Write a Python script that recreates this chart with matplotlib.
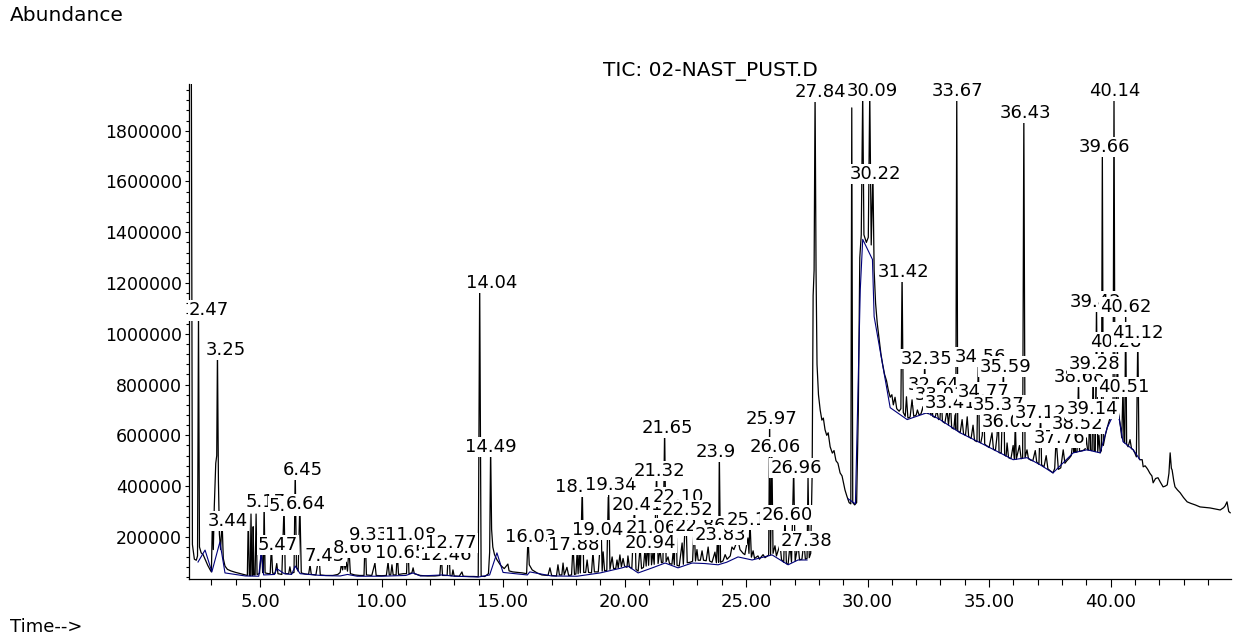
import numpy as np
import matplotlib
matplotlib.use("Agg")
import matplotlib.pyplot as plt
from matplotlib.ticker import MultipleLocator, FormatStrFormatter

# TIC trace: (retention time [min], abundance [x1000])
tic_early = [
    (2.17, 2300), (2.22, 170), (2.30, 112), (2.38, 108), (2.43, 125), (2.47, 1092), (2.51, 160),
    (2.58, 137), (2.66, 130), (2.75, 110), (2.85, 88), (2.95, 70), (3.00, 62), (3.05, 300),
    (3.08, 150), (3.12, 320), (3.18, 490), (3.22, 520), (3.25, 938), (3.29, 420), (3.33, 210),
    (3.38, 150), (3.44, 263), (3.49, 115), (3.56, 85), (3.66, 72), (3.80, 66), (4.00, 60),
    (4.20, 55), (4.40, 50), (4.48, 48), (4.52, 290), (4.56, 48), (4.60, 47), (4.63, 290),
    (4.67, 48), (4.70, 48), (4.72, 240), (4.75, 50), (4.80, 50), (4.84, 290), (4.88, 52),
    (4.98, 55), (5.07, 160), (5.11, 60), (5.14, 58), (5.17, 338), (5.21, 58), (5.35, 55),
    (5.42, 56), (5.47, 168), (5.52, 57), (5.62, 56), (5.69, 95), (5.74, 55), (5.90, 52),
    (5.99, 322), (6.04, 55), (6.18, 55), (6.23, 82), (6.28, 56), (6.40, 60), (6.45, 464),
    (6.50, 80), (6.57, 65), (6.64, 330), (6.70, 58), (6.85, 54), (7.00, 52), (7.06, 90),
    (7.11, 52), (7.30, 50), (7.43, 125), (7.48, 50), (7.70, 48), (8.00, 48), (8.20, 52),
    (8.30, 60), (8.35, 95), (8.40, 70), (8.45, 110), (8.50, 72), (8.55, 100), (8.60, 65),
    (8.66, 157), (8.72, 55), (8.90, 50), (9.10, 48), (9.28, 48), (9.33, 208), (9.38, 50),
    (9.60, 48), (9.73, 97), (9.78, 48), (10.00, 47), (10.20, 48), (10.27, 101), (10.32, 50),
    (10.38, 50), (10.43, 90), (10.48, 50), (10.60, 50), (10.65, 137), (10.70, 52), (10.90, 55),
    (11.03, 55), (11.08, 208), (11.13, 55), (11.25, 58), (11.30, 78), (11.35, 55), (11.60, 48),
    (11.90, 46), (12.20, 46), (12.40, 48), (12.46, 129), (12.51, 48), (12.70, 48), (12.77, 176),
    (12.82, 48), (12.90, 47), (12.94, 70), (12.99, 46), (13.20, 45), (13.31, 62), (13.36, 45),
    (13.60, 44), (13.80, 44), (13.98, 43), (14.04, 1202), (14.10, 45), (14.25, 44), (14.40, 55),
    (14.45, 140), (14.49, 555), (14.53, 230), (14.58, 160), (14.65, 130), (14.75, 110), (14.90, 88),
]

tic_mid = [
    (15.05, 75), (15.20, 93), (15.25, 66), (15.40, 62), (15.60, 60), (15.80, 58), (15.97, 55),
    (16.03, 200), (16.08, 90), (16.20, 70), (16.40, 58), (16.60, 50), (16.85, 48), (16.93, 78),
    (17.00, 48), (17.20, 46), (17.26, 90), (17.32, 50), (17.42, 50), (17.47, 97), (17.52, 50),
    (17.63, 80), (17.70, 48), (17.82, 50), (17.88, 168), (17.94, 52), (18.00, 54), (18.05, 141),
    (18.09, 55), (18.13, 141), (18.18, 58), (18.26, 397), (18.32, 60), (18.40, 60), (18.46, 109),
    (18.52, 60), (18.64, 58), (18.70, 141), (18.76, 62), (18.92, 62), (19.04, 228), (19.08, 65),
    (19.12, 141), (19.18, 66), (19.27, 68), (19.34, 405), (19.40, 72), (19.49, 121), (19.55, 75),
    (19.64, 76), (19.69, 109), (19.74, 78), (19.81, 129), (19.87, 82), (19.94, 115), (20.00, 85),
    (20.10, 80), (20.14, 125), (20.20, 82), (20.30, 75), (20.41, 326), (20.47, 72), (20.56, 65),
    (20.64, 160), (20.70, 75), (20.78, 80), (20.84, 150), (20.89, 85), (20.94, 176), (20.99, 88),
    (21.06, 236), (21.11, 90), (21.17, 140), (21.22, 92), (21.32, 460), (21.38, 95), (21.46, 150),
    (21.52, 98), (21.58, 100), (21.65, 630), (21.71, 102), (21.79, 121), (21.85, 95), (21.95, 92),
    (22.00, 140), (22.05, 90), (22.10, 358), (22.16, 88), (22.25, 85), (22.37, 176), (22.42, 92),
    (22.52, 307), (22.58, 98), (22.70, 100), (22.80, 104), (22.86, 243), (22.92, 105), (22.98, 150),
    (23.03, 108), (23.12, 108), (23.19, 145), (23.25, 108), (23.36, 106), (23.44, 160), (23.50, 105),
    (23.60, 100), (23.72, 140), (23.78, 98), (23.83, 208), (23.87, 100), (23.90, 535), (23.95, 100),
    (24.05, 105), (24.14, 130), (24.22, 112), (24.35, 125), (24.42, 160), (24.50, 150), (24.60, 175),
    (24.67, 188), (24.75, 150), (24.88, 135), (24.95, 130), (25.08, 196), (25.12, 135), (25.16, 267),
    (25.22, 120), (25.29, 145), (25.35, 115), (25.49, 125), (25.55, 112), (25.70, 130), (25.78, 118),
    (25.88, 125), (25.93, 128), (25.97, 665), (26.01, 130), (26.06, 555), (26.11, 135), (26.19, 165),
    (26.25, 125), (26.40, 170), (26.46, 110), (26.55, 100), (26.60, 287), (26.66, 95), (26.73, 92),
    (26.81, 170), (26.87, 100), (26.96, 472), (27.02, 105), (27.14, 170), (27.20, 110), (27.30, 112),
    (27.38, 184), (27.44, 112), (27.51, 115), (27.55, 440), (27.60, 118), (27.66, 135),
]

tic_late = [
    (27.72, 450), (27.76, 1150), (27.80, 1250), (27.84, 1952), (27.88, 1250), (27.92, 880),
    (27.98, 760), (28.05, 700), (28.12, 660), (28.18, 668), (28.25, 622), (28.32, 600), (28.38, 610),
    (28.46, 555), (28.55, 530), (28.62, 540), (28.70, 500), (28.78, 490), (28.87, 452), (28.95, 440),
    (29.07, 385), (29.15, 360), (29.24, 335), (29.31, 330), (29.35, 1890), (29.39, 335), (29.47, 326),
    (29.55, 335), (29.62, 700), (29.68, 1300), (29.74, 1390), (29.80, 1950), (29.85, 1390),
    (29.95, 1360), (30.03, 1380), (30.09, 1956), (30.15, 1350), (30.22, 1628), (30.27, 1250),
    (30.33, 1120), (30.40, 1040), (30.47, 985), (30.55, 920), (30.62, 880), (30.70, 840), (30.78, 815),
    (30.85, 780), (30.93, 750), (31.00, 760), (31.06, 720), (31.13, 750), (31.20, 705), (31.30, 695),
    (31.37, 705), (31.42, 1245), (31.47, 690), (31.55, 675), (31.60, 752), (31.66, 668), (31.75, 672),
    (31.83, 740), (31.90, 675), (32.00, 680), (32.05, 700), (32.12, 680), (32.20, 685), (32.28, 713),
    (32.31, 688), (32.35, 902), (32.40, 690), (32.50, 685), (32.57, 730), (32.60, 680), (32.64, 800),
    (32.68, 675), (32.78, 670), (32.85, 700), (32.92, 662), (32.98, 665), (33.03, 760), (33.08, 655),
    (33.18, 648), (33.27, 700), (33.33, 640), (33.41, 729), (33.46, 630), (33.55, 625), (33.60, 680),
    (33.63, 622), (33.67, 1956), (33.71, 618), (33.81, 610), (33.89, 662), (33.95, 605), (34.03, 600),
    (34.10, 673), (34.16, 595), (34.26, 588), (34.34, 640), (34.40, 580), (34.50, 575), (34.56, 910),
    (34.60, 573), (34.66, 571), (34.72, 600), (34.77, 772), (34.82, 565), (34.92, 558), (35.00, 552),
    (35.12, 610), (35.18, 545), (35.26, 540), (35.33, 600), (35.37, 721), (35.41, 532), (35.50, 530),
    (35.59, 871), (35.64, 522), (35.70, 518), (35.74, 570), (35.80, 512), (35.90, 508), (35.99, 560),
    (36.04, 505), (36.08, 654), (36.12, 506), (36.25, 560), (36.32, 508), (36.38, 510), (36.43, 1869),
    (36.48, 512), (36.56, 543), (36.62, 508), (36.72, 502), (36.80, 500), (36.90, 540), (36.96, 495),
    (37.05, 486), (37.12, 689), (37.16, 484), (37.26, 476), (37.35, 520), (37.42, 468), (37.52, 460),
    (37.63, 452), (37.70, 470), (37.76, 591), (37.80, 531), (37.85, 466), (37.95, 472), (38.05, 543),
    (38.12, 490), (38.20, 500), (38.30, 510), (38.38, 520), (38.46, 583), (38.49, 532), (38.52, 646),
    (38.56, 533), (38.62, 535), (38.68, 831), (38.72, 537), (38.85, 540), (38.95, 545), (39.00, 590),
    (39.05, 543), (39.10, 542), (39.14, 705), (39.18, 541), (39.24, 540), (39.28, 882), (39.32, 538),
    (39.37, 536), (39.42, 1127), (39.47, 534), (39.52, 600), (39.57, 531), (39.62, 540), (39.66, 1735),
    (39.70, 560), (39.78, 600), (39.86, 630), (39.95, 660), (40.05, 680), (40.10, 700), (40.14, 1956),
    (40.18, 705), (40.24, 710), (40.28, 969), (40.32, 690), (40.40, 640), (40.46, 590), (40.51, 792),
    (40.55, 575), (40.58, 570), (40.62, 1107), (40.66, 565), (40.72, 555), (40.80, 583), (40.86, 548),
    (40.93, 543), (41.00, 530), (41.06, 515), (41.12, 1005), (41.17, 508), (41.21, 504), (41.30, 504),
    (41.34, 476), (41.42, 480), (41.50, 470), (41.54, 464), (41.62, 450), (41.70, 440), (41.75, 413),
    (41.85, 430), (41.95, 433), (42.05, 415), (42.16, 397), (42.25, 400), (42.33, 405), (42.40, 450),
    (42.45, 531), (42.50, 470), (42.53, 464), (42.60, 420), (42.65, 397), (42.75, 385), (42.86, 374),
    (43.00, 355), (43.15, 338), (43.30, 332), (43.48, 326), (43.68, 318), (43.90, 316), (44.09, 314),
    (44.30, 310), (44.51, 306), (44.65, 315), (44.71, 322), (44.79, 338), (44.86, 300), (44.92, 295),
]

# integration baseline (blue)
base_early = [
    (2.45, 101), (2.74, 148), (3.02, 62), (3.35, 180), (3.56, 58), (4.40, 46), (4.95, 45),
    (5.05, 140), (5.15, 50), (5.60, 52), (5.69, 75), (6.00, 55), (6.30, 52), (6.45, 85), (6.65, 55),
    (7.50, 48), (8.30, 46), (8.60, 52), (9.00, 45), (10.00, 45), (11.00, 48), (11.30, 58),
    (11.60, 46), (12.50, 50), (13.00, 45), (14.00, 42), (14.45, 50), (14.75, 137), (15.00, 60),
    (16.00, 50), (16.10, 62), (17.00, 46), (18.05, 45), (19.00, 58), (19.90, 78), (20.14, 85),
    (20.56, 58), (21.20, 80), (21.67, 97), (22.20, 78), (22.78, 97), (23.30, 95), (23.85, 90),
    (24.20, 100), (24.67, 121), (25.25, 109), (26.07, 129), (26.73, 90), (27.14, 109), (27.51, 109),
]
base_late = [
    (29.20, 350), (29.50, 330), (29.70, 1174), (29.80, 1372), (30.20, 1293), (30.27, 1068),
    (30.93, 709), (31.63, 662), (32.45, 689), (32.98, 662), (33.81, 610), (34.63, 571), (35.45, 531),
    (35.99, 504), (36.56, 512), (37.10, 484), (37.63, 452), (38.46, 531), (39.03, 543), (39.57, 531),
    (39.86, 630), (40.27, 713), (40.51, 575), (40.93, 543), (41.21, 504),
]

# peak labels, in drawing order (later ones cover earlier ones)
peak_labels = [
    "2.47", "3.25", "3.44", "5.17", "5.99", "6.64", "6.45", "5.47", "7.43", "8.66", "9.33",
    "11.08", "10.65", "12.46", "12.77", "14.04", "14.49", "16.03", "17.88", "19.04", "18.26",
    "19.34", "20.41", "21.06", "20.94", "22.86", "23.83", "25.16", "22.10", "22.52", "21.32",
    "21.65", "23.9", "26.60", "27.38", "25.97", "26.96", "26.06",
    "31.42", "32.35", "34.56", "32.64", "33.03", "33.41", "34.77", "35.59", "35.37", "36.08",
    "37.12", "37.76", "38.52", "39.14", "38.68", "39.28", "40.51", "39.42", "40.28", "41.12",
    "40.62", "39.66", "36.43", "33.67", "30.22", "27.84", "30.09", "40.14",
]
label_t = [
    2.90, 3.60, 3.68, 5.25, 6.19, 6.89, 6.77, 5.74, 7.67, 8.83, 9.49,
    11.21, 10.80, 12.65, 12.86, 14.55, 14.51, 16.15, 17.92, 18.91, 18.21,
    19.44, 20.51, 21.09, 21.05, 23.11, 23.93, 25.25, 22.20, 22.61, 21.42,
    21.75, 23.77, 26.69, 27.47, 26.03, 27.06, 26.19,
    31.46, 32.41, 34.63, 32.70, 32.98, 33.40, 34.79, 35.66, 35.41, 35.74,
    37.10, 37.88, 38.62, 39.24, 38.70, 39.32, 40.56, 39.40, 40.23, 41.13,
    40.64, 39.73, 36.48, 33.68, 30.31, 28.05, 30.19, 40.19,
]
label_v = [
    1092, 938, 263, 338, 322, 330, 464, 168, 125, 157, 208,
    208, 137, 129, 176, 1202, 555, 200, 168, 228, 397,
    405, 326, 236, 176, 243, 208, 267, 358, 307, 460,
    630, 535, 287, 184, 665, 472, 555,
    1245, 902, 910, 800, 760, 729, 772, 871, 721, 654,
    689, 591, 646, 705, 831, 882, 792, 1127, 969, 1005,
    1107, 1735, 1869, 1956, 1628, 1952, 1956, 1956,
]

tic = np.array(tic_early + tic_mid + tic_late)

fig = plt.figure(figsize=(12.33, 6.36), dpi=100)
ax = fig.add_axes([0.1533, 0.0896, 0.845, 0.7787])

ax.plot(tic[:, 0], tic[:, 1] * 1000, color="black", lw=0.9, zorder=2)
for seg in (base_early, base_late):
    b = np.array(seg)
    ax.plot(b[:, 0], b[:, 1] * 1000, color="#00007a", lw=0.8, zorder=3)

for txt, lt, lv in zip(peak_labels, label_t, label_v):
    ax.text(lt, lv * 1000, txt, ha="center", va="center", fontsize=13, zorder=5,
            bbox=dict(boxstyle="square,pad=0.06", fc="white", ec="none"), clip_on=False)

ax.set_xlim(2.08, 44.95)
ax.set_ylim(34000, 1985000)

ax.xaxis.set_major_locator(MultipleLocator(5))
ax.xaxis.set_minor_locator(MultipleLocator(1))
ax.xaxis.set_major_formatter(FormatStrFormatter("%.2f"))
ax.yaxis.set_major_locator(MultipleLocator(200000))
ax.yaxis.set_minor_locator(MultipleLocator(40000))
ax.yaxis.set_major_formatter(FormatStrFormatter("%d"))

for s in ("top", "right"):
    ax.spines[s].set_visible(False)
for s in ("left", "bottom"):
    ax.spines[s].set_linewidth(0.9)

ax.tick_params(axis="x", which="major", length=6, width=0.8, pad=4, labelsize=13)
ax.tick_params(axis="x", which="minor", length=4, width=0.8)
ax.tick_params(axis="y", which="major", length=3, width=0.8, pad=2, labelsize=12.5)
ax.tick_params(axis="y", which="minor", length=2.5, width=0.8)

fig.text(0.008, 0.976, "Abundance", ha="left", va="center", fontsize=14.5)
fig.text(0.008, 0.014, "Time-->", ha="left", va="center", fontsize=13)
fig.text(0.576, 0.887, "TIC: 02-NAST_PUST.D", ha="center", va="center", fontsize=14.5)

fig.savefig("out.png", dpi=100)
